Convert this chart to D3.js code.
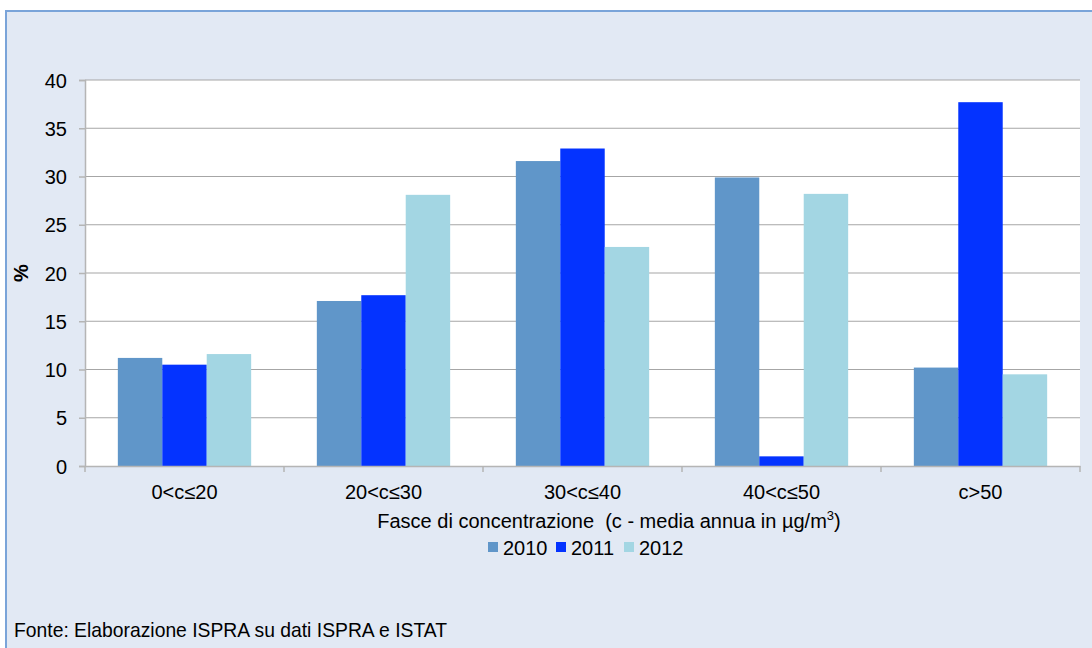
<!DOCTYPE html>
<html>
<head>
<meta charset="utf-8">
<script src="https://cdn.jsdelivr.net/npm/d3@7"></script>
<style>
  body { margin: 0; background: #fff; }
  text { font-family: Arial, "Liberation Sans", sans-serif; fill: #000; }
</style>
</head>
<body>
<div id="chart"></div>
<script>
// Chart data
const categories = ["0<c≤20", "20<c≤30", "30<c≤40", "40<c≤50", "c>50"]
const years = ["2010", "2011", "2012"]
const values2010 = [11.2, 17.1, 31.6, 29.9, 10.2]
const values2011 = [10.5, 17.7, 32.9, 1.0, 37.7]
const values2012 = [11.6, 28.1, 22.7, 28.2, 9.5]
const yTicks = [0, 5, 10, 15, 20, 25, 30, 35, 40]
const colors = ["#6096c9", "#0433ff", "#a3d6e3"]

const svgWidth = 1092
const svgHeight = 648

let margin = { top: 80, right: 12, bottom: 182, left: 85 }
let width = svgWidth - margin.left - margin.right
let height = svgHeight - margin.top - margin.bottom

let svg = d3.select("#chart")
  .append("svg")
  .attr("width", svgWidth)
  .attr("height", svgHeight)

// panel background + frame
svg.append("rect")
  .attr("x", 5).attr("y", 10)
  .attr("width", svgWidth - 5).attr("height", svgHeight - 10)
  .attr("fill", "#e2e9f4")
svg.append("path")
  .attr("d", `M6,${svgHeight} V11 H${svgWidth}`)
  .attr("fill", "none")
  .attr("stroke", "#7aa4d9")
  .attr("stroke-width", 2)

let chartGroup = svg.append("g")
  .attr("transform", `translate(${margin.left}, ${margin.top})`)

let rows = years.map((y, i) => ({ year: y, values: [values2010, values2011, values2012][i] }))

let x0 = d3.scaleBand()
  .domain(categories)
  .range([0, 995])
  .paddingInner(0.33)
  .paddingOuter(0.165)

let x1 = d3.scaleBand()
  .domain(years)
  .range([0, x0.bandwidth()])

let catScale = d3.scaleBand().domain(categories).range([0, 995])

let y = d3.scaleLinear().domain([0, 40]).range([height, 0])

// plot area
chartGroup.append("rect")
  .attr("width", 995).attr("height", height)
  .attr("fill", "#fff")

// gridlines
chartGroup.append("g")
  .selectAll("line")
  .data(yTicks.slice(1))
  .enter()
  .append("line")
  .attr("x1", 0).attr("x2", 995)
  .attr("y1", d => y(d)).attr("y2", d => y(d))
  .attr("stroke", "#a6a6a6")
  .attr("stroke-width", 1.2)

// bars
let groups = chartGroup.selectAll(".cat")
  .data(categories)
  .enter()
  .append("g")
  .attr("transform", d => `translate(${x0(d)},0)`)

groups.selectAll("rect")
  .data((c, ci) => rows.map(r => ({ year: r.year, v: r.values[ci] })))
  .enter()
  .append("rect")
  .attr("x", d => x1(d.year))
  .attr("width", x1.bandwidth())
  .attr("y", d => y(d.v))
  .attr("height", d => height - y(d.v))
  .attr("fill", (d, i) => colors[i])

// y axis
let leftAxis = d3.axisLeft(y).tickValues(yTicks).tickSize(6).tickPadding(12)
let yAxis = chartGroup.append("g").call(leftAxis)
yAxis.select(".domain").attr("stroke", "#b5b5b5").attr("stroke-width", 1.5)
yAxis.selectAll(".tick line").attr("stroke", "#b5b5b5").attr("stroke-width", 1.5)
yAxis.selectAll("text")
  .style("font-size", "20px").attr("fill", "#000")
  .attr("x", -18).attr("dy", "0.36em")

// x axis
let bottomAxis = d3.axisBottom(catScale).tickSize(0).tickPadding(0)
let xAxis = chartGroup.append("g")
  .attr("transform", `translate(0, ${height})`)
  .call(bottomAxis)
xAxis.select(".domain").attr("stroke", "#b5b5b5").attr("stroke-width", 1.5)
xAxis.selectAll("text")
  .style("font-size", "20px").attr("fill", "#000")
  .attr("y", 33).attr("dy", 0)
xAxis.selectAll(".sep")
  .data(categories.map(c => catScale(c)).concat([995]))
  .enter()
  .append("line")
  .attr("x1", d => d).attr("x2", d => d)
  .attr("y1", 0).attr("y2", 6)
  .attr("stroke", "#b5b5b5")
  .attr("stroke-width", 1.5)

// y label
svg.append("text")
  .attr("transform", "translate(28, 273) rotate(-90)")
  .attr("text-anchor", "middle")
  .style("font-size", "20px")
  .style("font-weight", "bold")
  .text("%")

// x label
let xt = svg.append("text")
  .attr("x", 609).attr("y", 528)
  .attr("text-anchor", "middle")
  .style("font-size", "20px")
xt.append("tspan").text("Fasce di concentrazione\u00a0\u00a0(c - media annua in µg/m")
xt.append("tspan").attr("dy", -8).style("font-size", "13px").text("3")
xt.append("tspan").attr("dy", 8).text(")")

// legend
let legend = svg.append("g").attr("transform", "translate(488, 555)")
let lx = 0
years.forEach((yr, i) => {
  legend.append("rect")
    .attr("x", lx).attr("y", -13)
    .attr("width", 10).attr("height", 10)
    .attr("fill", colors[i])
  legend.append("text")
    .attr("x", lx + 15).attr("y", 0)
    .style("font-size", "20px")
    .text(yr)
  lx += 68
})

// source note
svg.append("text")
  .attr("x", 14).attr("y", 637)
  .attr("textLength", 433)
  .attr("lengthAdjust", "spacingAndGlyphs")
  .style("font-size", "21px")
  .text("Fonte: Elaborazione ISPRA su dati ISPRA e ISTAT")
</script>
</body>
</html>
